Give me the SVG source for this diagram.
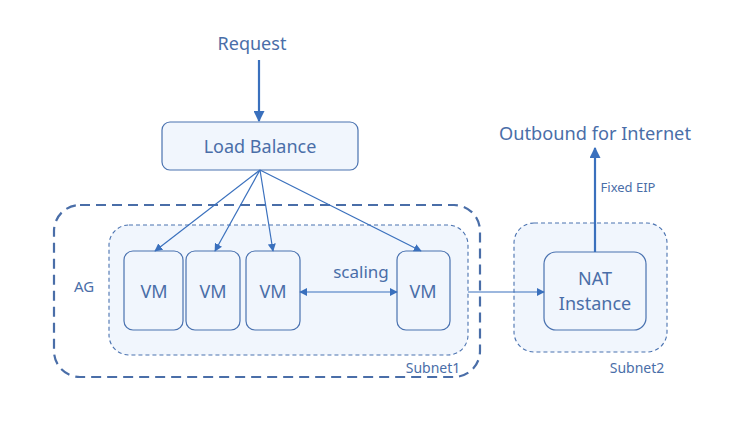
<svg xmlns="http://www.w3.org/2000/svg" width="737" height="426" viewBox="0 0 737 426">
<style>
text{font-family:"Noto Sans","Liberation Sans",sans-serif;fill:#4a6ea8;text-anchor:middle}
.box{fill:#f1f6fd;stroke:#4a72b0;stroke-width:1.2}
.sub{fill:#f1f6fd;stroke:#4a72b0;stroke-width:1.1;stroke-dasharray:4 3}
.ag{fill:none;stroke:#4a6ea8;stroke-width:2.2;stroke-dasharray:10 6}
.ln{fill:none;stroke:#3a70bd;stroke-width:1.2}
.thick{fill:none;stroke:#3a70bd;stroke-width:2.2}
</style>
<defs>
<marker id="ah" viewBox="0 0 10 10" refX="9" refY="5" markerWidth="8" markerHeight="8" markerUnits="userSpaceOnUse" orient="auto-start-reverse"><path d="M0,0 L10,5 L0,10 z" fill="#3a70bd"/></marker>
<marker id="ahb" viewBox="0 0 10 10" refX="9" refY="5" markerWidth="5" markerHeight="5" orient="auto"><path d="M0,0 L10,5 L0,10 z" fill="#3a70bd"/></marker>
</defs>
<g id="ag"><rect class="ag" x="54" y="205" width="426" height="172" rx="26"/><text x="84" y="292" font-size="15">AG</text></g>
<g id="subnet1"><rect class="sub" x="109" y="225" width="359" height="130" rx="20"/><text x="433" y="373" font-size="14">Subnet1</text></g>
<g id="subnet2"><rect class="sub" x="514" y="223" width="153" height="129" rx="20"/><text x="637" y="373" font-size="14">Subnet2</text></g>
<g id="request"><text x="252" y="50" font-size="18">Request</text></g>
<g id="outbound"><text x="595" y="140" font-size="18.2">Outbound for Internet</text></g>
<g id="lb"><rect class="box" x="162" y="122" width="196" height="48" rx="8"/><text x="260" y="153" font-size="18">Load Balance</text></g>
<g id="vm1"><rect class="box" x="124" y="251" width="59" height="79" rx="9"/><text x="154" y="298" font-size="18">VM</text></g>
<g id="vm2"><rect class="box" x="186" y="251" width="54" height="79" rx="9"/><text x="213" y="298" font-size="18">VM</text></g>
<g id="vm3"><rect class="box" x="246" y="251" width="54" height="79" rx="9"/><text x="273" y="298" font-size="18">VM</text></g>
<g id="vm4"><rect class="box" x="397" y="251" width="53" height="79" rx="9"/><text x="423" y="298" font-size="18">VM</text></g>
<g id="nat"><rect class="box" x="544" y="252" width="102" height="78" rx="12"/><text x="595" y="285" font-size="18">NAT</text><text x="595" y="310" font-size="18">Instance</text></g>
<g id="connectors">
<line class="thick" x1="259" y1="60" x2="259" y2="121" marker-end="url(#ahb)"/>
<line class="ln" x1="260" y1="170" x2="155" y2="251" marker-end="url(#ah)"/>
<line class="ln" x1="260" y1="170" x2="215" y2="251" marker-end="url(#ah)"/>
<line class="ln" x1="260" y1="170" x2="273" y2="251" marker-end="url(#ah)"/>
<line class="ln" x1="260" y1="170" x2="421" y2="251" marker-end="url(#ah)"/>
<line class="ln" x1="300" y1="292" x2="397" y2="292" marker-start="url(#ah)" marker-end="url(#ah)"/>
<text x="361" y="278" font-size="17">scaling</text>
<line class="ln" x1="468" y1="292" x2="544" y2="292" marker-end="url(#ah)"/>
<line class="thick" x1="595" y1="252" x2="595" y2="148" marker-end="url(#ahb)"/>
<text x="628" y="192" font-size="13">Fixed EIP</text>
</g>
</svg>
